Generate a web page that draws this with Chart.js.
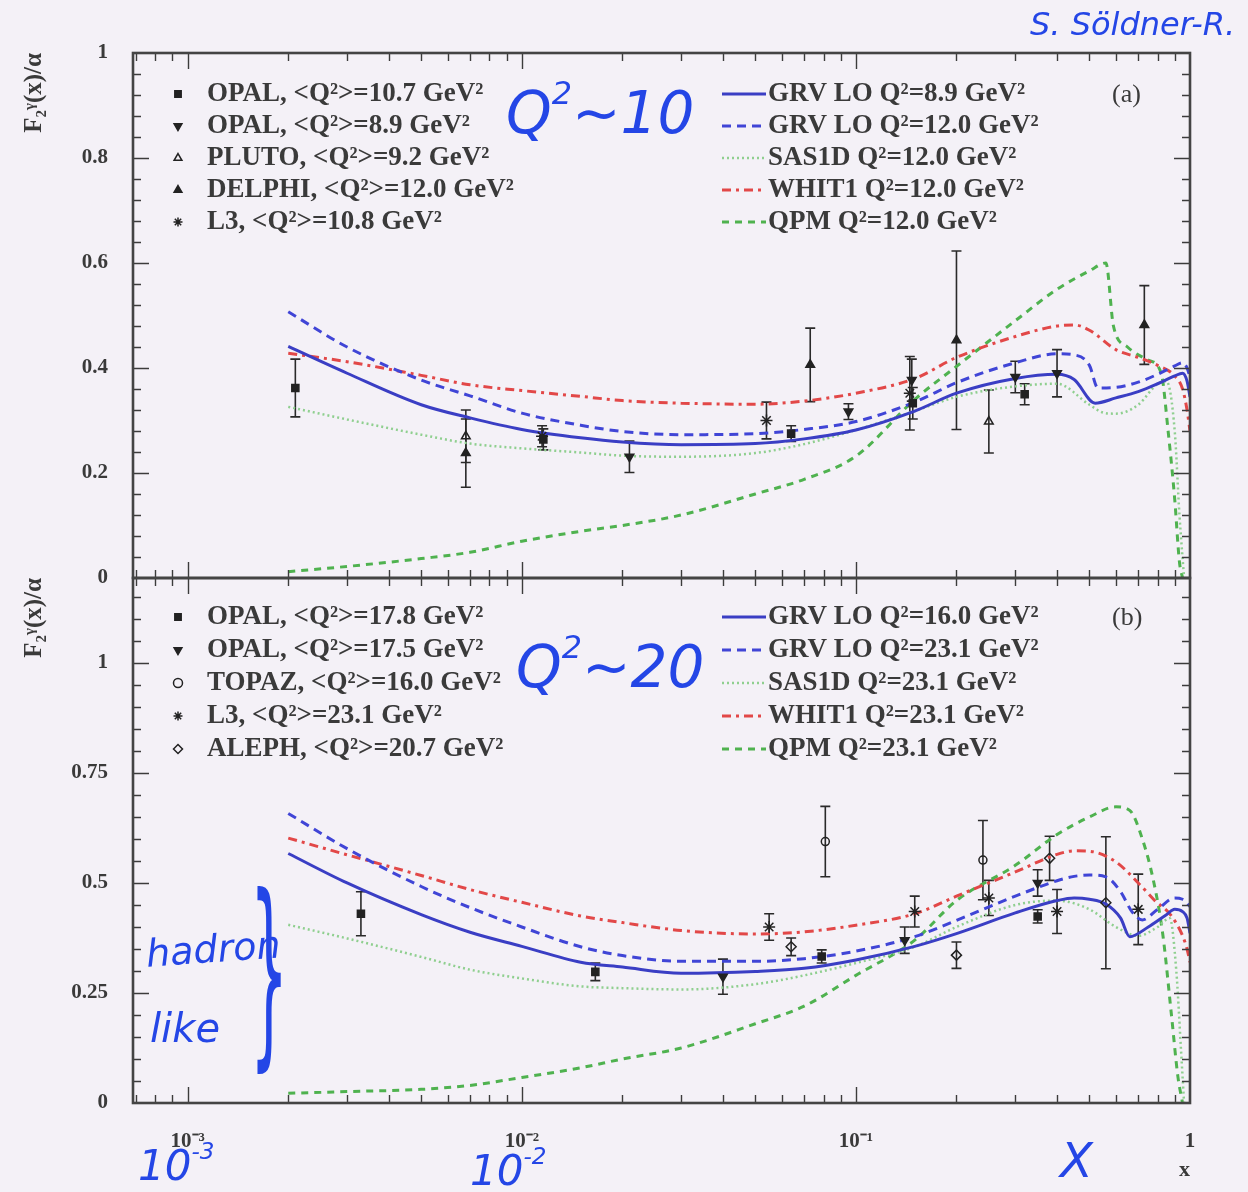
<!DOCTYPE html>
<html><head><meta charset="utf-8">
<script src="https://cdn.jsdelivr.net/npm/chart.js@4.4.1/dist/chart.umd.min.js"></script>
<style>
html,body{margin:0;padding:0;background:#f4f1f7;width:1248px;height:1192px;overflow:hidden;}
#wrap{position:relative;width:1248px;height:1192px;}
canvas{position:absolute;left:0;}
.hw{position:absolute;color:#2446e6;font-family:"DejaVu Sans",sans-serif;font-style:italic;white-space:nowrap;line-height:1;}
.hw sup{font-size:0.55em;vertical-align:0.9em;}
</style></head><body>
<div id="wrap">
<canvas id="cTop" width="1248" height="600" style="top:0"></canvas>
<canvas id="cBot" width="1248" height="632" style="top:560px"></canvas>
<div class="hw" style="left:1030px;top:8px;font-size:32px;">S. Söldner-R.</div>
<div class="hw" style="left:506px;top:78px;font-size:58px;">Q<sup>2</sup>~10</div>
<div class="hw" style="left:516px;top:632px;font-size:58px;">Q<sup>2</sup>~20</div>
<div class="hw" style="left:146px;top:930px;font-size:38px;transform:rotate(-4deg);">hadron</div>
<div class="hw" style="left:150px;top:1008px;font-size:40px;">like</div>
<div class="hw" style="left:250px;top:940px;font-size:60px;font-style:normal;transform:scale(1,3.4);transform-origin:0 50%;">}</div>
<div class="hw" style="left:138px;top:1140px;font-size:42px;">10<sup>-3</sup></div>
<div class="hw" style="left:470px;top:1145px;font-size:42px;">10<sup>-2</sup></div>
<div class="hw" style="left:1060px;top:1136px;font-size:48px;">X</div>
</div>
<script>
// ---------- axis ranges & ticks ----------
const X_MIN = 6.86e-4, X_MAX = 1;
const xTickVals = [0.001, 0.01, 0.1, 1];
const xTickLabels = ['10⁻³', '10⁻²', '10⁻¹', '1'];
const yTicksTop = [0, 0.2, 0.4, 0.6, 0.8, 1];
const yTicksBot = [0, 0.25, 0.5, 0.75, 1];

// ---------- panel (a): Q^2 ~ 10 ----------
// data points: [x, F2/alpha, error]
const opal107 = [[0.0021,0.362,0.055],[0.0116,0.264,0.02],[0.064,0.275,0.015],[0.148,0.333,0.03],[0.32,0.35,0.02]];
const opal89  = [[0.021,0.231,0.03],[0.095,0.317,0.015],[0.147,0.377,0.04],[0.3,0.383,0.03],[0.4,0.39,0.045]];
const pluto92 = [[0.0068,0.27,0.05],[0.25,0.298,0.06]];
const delphi120 = [[0.0068,0.238,0.065],[0.073,0.406,0.07],[0.2,0.453,0.17],[0.73,0.482,0.075]];
const l3_108 = [[0.0115,0.27,0.02],[0.054,0.3,0.035],[0.145,0.352,0.07]];
// theory curves: [x, F2/alpha]
const grv89 = [[0.002,0.441],[0.003,0.39],[0.005,0.33],[0.007,0.305],[0.01,0.283],[0.015,0.267],[0.02,0.259],[0.03,0.254],[0.05,0.256],[0.07,0.265],[0.1,0.282],[0.15,0.318],[0.2,0.352],[0.3,0.38],[0.4,0.388],[0.45,0.378],[0.52,0.333],[0.6,0.343],[0.7,0.355],[0.8,0.37],[0.9,0.385],[0.95,0.39],[0.98,0.375],[1.0,0.345]];
const grv120 = [[0.002,0.507],[0.003,0.44],[0.005,0.377],[0.007,0.347],[0.01,0.314],[0.015,0.291],[0.02,0.279],[0.03,0.273],[0.05,0.275],[0.07,0.283],[0.1,0.298],[0.15,0.335],[0.2,0.372],[0.3,0.41],[0.4,0.427],[0.45,0.425],[0.5,0.405],[0.53,0.362],[0.6,0.363],[0.7,0.373],[0.8,0.388],[0.9,0.404],[0.95,0.41],[0.98,0.4],[1.0,0.383]];
const sas120 = [[0.002,0.326],[0.003,0.302],[0.005,0.273],[0.007,0.256],[0.01,0.247],[0.015,0.239],[0.02,0.233],[0.03,0.231],[0.05,0.238],[0.07,0.255],[0.1,0.282],[0.15,0.318],[0.2,0.345],[0.3,0.365],[0.4,0.37],[0.5,0.33],[0.55,0.315],[0.6,0.313],[0.7,0.33],[0.8,0.37],[0.85,0.375],[0.9,0.28],[0.93,0.12],[0.96,0.0]];
const whit120 = [[0.002,0.428],[0.003,0.412],[0.005,0.386],[0.007,0.368],[0.01,0.357],[0.015,0.346],[0.02,0.338],[0.03,0.333],[0.05,0.331],[0.07,0.337],[0.1,0.352],[0.15,0.38],[0.2,0.42],[0.3,0.46],[0.4,0.48],[0.45,0.482],[0.5,0.472],[0.6,0.435],[0.7,0.42],[0.8,0.405],[0.9,0.385],[0.95,0.36],[0.98,0.32],[1.0,0.28]];
const qpm120 = [[0.002,0.012],[0.003,0.022],[0.005,0.037],[0.007,0.049],[0.01,0.07],[0.015,0.089],[0.02,0.1],[0.03,0.12],[0.05,0.16],[0.07,0.188],[0.1,0.232],[0.15,0.34],[0.2,0.403],[0.3,0.49],[0.4,0.55],[0.5,0.585],[0.56,0.6],[0.59,0.48],[0.65,0.44],[0.75,0.415],[0.82,0.39],[0.86,0.28],[0.9,0.15],[0.93,0.03],[0.95,0.0]];

// ---------- panel (b): Q^2 ~ 20 ----------
const opal178 = [[0.0033,0.43,0.05],[0.0166,0.298,0.02],[0.079,0.333,0.015],[0.35,0.424,0.015]];
const opal175 = [[0.04,0.287,0.04],[0.14,0.37,0.03],[0.35,0.5,0.03]];
const topaz160 = [[0.081,0.594,0.08],[0.24,0.552,0.09]];
const l3_231 = [[0.055,0.4,0.03],[0.15,0.435,0.035],[0.25,0.466,0.04],[0.4,0.435,0.05],[0.7,0.44,0.08]];
const aleph207 = [[0.064,0.355,0.02],[0.2,0.336,0.03],[0.38,0.556,0.05],[0.56,0.455,0.15]];
const grv160 = [[0.002,0.567],[0.003,0.5],[0.005,0.428],[0.007,0.388],[0.01,0.356],[0.015,0.32],[0.02,0.309],[0.03,0.295],[0.05,0.299],[0.07,0.306],[0.1,0.325],[0.15,0.356],[0.2,0.385],[0.3,0.432],[0.4,0.46],[0.45,0.466],[0.5,0.463],[0.56,0.452],[0.62,0.42],[0.66,0.378],[0.75,0.4],[0.85,0.428],[0.9,0.44],[0.95,0.435],[0.98,0.42],[1.0,0.386]];
const grv231 = [[0.002,0.658],[0.003,0.578],[0.005,0.492],[0.007,0.444],[0.01,0.4],[0.015,0.355],[0.02,0.335],[0.03,0.322],[0.05,0.322],[0.07,0.328],[0.1,0.345],[0.15,0.378],[0.2,0.415],[0.3,0.47],[0.4,0.505],[0.45,0.515],[0.5,0.518],[0.56,0.514],[0.62,0.48],[0.67,0.435],[0.72,0.416],[0.8,0.44],[0.9,0.466],[0.95,0.463],[0.98,0.455],[1.0,0.446]];
const sas231 = [[0.002,0.405],[0.003,0.374],[0.005,0.332],[0.007,0.303],[0.01,0.283],[0.015,0.265],[0.02,0.261],[0.03,0.258],[0.05,0.27],[0.07,0.29],[0.1,0.318],[0.15,0.355],[0.2,0.4],[0.3,0.45],[0.4,0.46],[0.5,0.44],[0.6,0.4],[0.7,0.38],[0.8,0.4],[0.87,0.42],[0.91,0.3],[0.94,0.12],[0.96,0.0]];
const whit231 = [[0.002,0.602],[0.003,0.564],[0.005,0.517],[0.007,0.485],[0.01,0.456],[0.015,0.425],[0.02,0.41],[0.03,0.392],[0.05,0.384],[0.07,0.389],[0.1,0.404],[0.15,0.43],[0.2,0.47],[0.3,0.525],[0.4,0.565],[0.45,0.573],[0.5,0.572],[0.6,0.548],[0.7,0.5],[0.78,0.462],[0.88,0.425],[0.95,0.38],[0.98,0.35],[1.0,0.32]];
const qpm231 = [[0.002,0.022],[0.003,0.026],[0.005,0.031],[0.007,0.04],[0.01,0.058],[0.015,0.08],[0.02,0.1],[0.03,0.125],[0.05,0.18],[0.07,0.22],[0.1,0.29],[0.15,0.37],[0.2,0.46],[0.3,0.54],[0.4,0.61],[0.5,0.65],[0.6,0.673],[0.66,0.665],[0.72,0.6],[0.78,0.5],[0.83,0.38],[0.88,0.2],[0.92,0.06],[0.95,0.0]];

// ---------- styles ----------
const C_BLUE = '#3a3ec4', C_BLUE2 = '#4045d6', C_LGREEN = '#8fcf8f', C_RED = '#e24848', C_GREEN = '#4fb24f';
const FONT = '"Liberation Serif", "Times New Roman", serif';
const TXT = '#3a3a3a';

function curveDs(label, pts, color, dash, width) {
  return { type: 'line', label, kind: 'line', data: pts.map(p => ({ x: p[0], y: p[1] })),
    borderColor: color, borderDash: dash, borderWidth: width, pointRadius: 0,
    fill: false, cubicInterpolationMode: 'monotone', order: 2 };
}
function pointDs(label, pts, style, filled, rot, radius) {
  return { type: 'scatter', label, kind: 'marker', data: pts.map(p => ({ x: p[0], y: p[1], e: p[2] })),
    pointStyle: style, pointRotation: rot || 0, pointRadius: radius || 5,
    backgroundColor: filled ? '#222' : 'rgba(0,0,0,0)', borderColor: '#222', borderWidth: 1.5, order: 1 };
}

// ---------- plugins ----------
const errorBars = {
  id: 'errorBars',
  beforeDatasetsDraw(chart) {
    const ctx = chart.ctx, xs = chart.scales.x, ys = chart.scales.y, a = chart.chartArea;
    ctx.save();
    ctx.beginPath(); ctx.rect(a.left, a.top, a.right - a.left, a.bottom - a.top); ctx.clip();
    ctx.strokeStyle = '#2a2a2a'; ctx.lineWidth = 1.6;
    chart.data.datasets.forEach(ds => {
      if (ds.kind !== 'marker') return;
      ds.data.forEach(p => {
        const px = xs.getPixelForValue(p.x);
        const y1 = ys.getPixelForValue(p.y - p.e), y2 = ys.getPixelForValue(p.y + p.e);
        ctx.beginPath();
        ctx.moveTo(px, y1); ctx.lineTo(px, y2);
        ctx.moveTo(px - 5, y1); ctx.lineTo(px + 5, y1);
        ctx.moveTo(px - 5, y2); ctx.lineTo(px + 5, y2);
        ctx.stroke();
      });
    });
    ctx.restore();
  }
};

const frame = {
  id: 'frame',
  afterDraw(chart, args, o) {
    const ctx = chart.ctx, a = chart.chartArea, xs = chart.scales.x, ys = chart.scales.y;
    ctx.save();
    ctx.strokeStyle = '#3c3c3c'; ctx.lineWidth = 1.4;
    ctx.beginPath();
    for (let d = -4; d <= 0; d++) {
      for (let m = 1; m <= 9; m++) {
        const v = m * Math.pow(10, d);
        if (v <= xs.min || v >= xs.max) continue;
        const px = Math.round(xs.getPixelForValue(v)) + 0.5;
        const L = m === 1 ? 16 : 8;
        ctx.moveTo(px, a.bottom); ctx.lineTo(px, a.bottom - L);
        ctx.moveTo(px, a.top); ctx.lineTo(px, a.top + L);
      }
    }
    const sub = o.major / o.minorDiv;
    for (let i = 1; i * sub < ys.max - 1e-9; i++) {
      const py = Math.round(ys.getPixelForValue(i * sub)) + 0.5;
      const L = i % o.minorDiv === 0 ? 16 : 8;
      ctx.moveTo(a.left, py); ctx.lineTo(a.left + L, py);
      ctx.moveTo(a.right, py); ctx.lineTo(a.right - L, py);
    }
    ctx.stroke();
    ctx.lineWidth = 2.6; ctx.strokeStyle = '#444';
    ctx.strokeRect(a.left, a.top, a.right - a.left, a.bottom - a.top);
    ctx.restore();
  }
};

function drawMarker(ctx, d, x, y) {
  ctx.save();
  ctx.fillStyle = d.backgroundColor; ctx.strokeStyle = d.borderColor; ctx.lineWidth = d.borderWidth;
  if (Chart.helpers && Chart.helpers.drawPoint) {
    Chart.helpers.drawPoint(ctx, { pointStyle: d.pointStyle, rotation: d.pointRotation, radius: 4.5, borderWidth: d.borderWidth }, x, y);
  } else {
    ctx.fillRect(x - 4, y - 4, 8, 8);
  }
  ctx.restore();
}

const panelLegend = {
  id: 'panelLegend',
  afterDraw(chart, args, o) {
    const ctx = chart.ctx, a = chart.chartArea, ds = chart.data.datasets;
    ctx.save();
    ctx.font = 'bold 27px ' + FONT; ctx.fillStyle = TXT;
    ctx.textBaseline = 'middle'; ctx.textAlign = 'left';
    ds.filter(d => d.kind === 'marker').forEach((d, i) => {
      const y = a.top + o.top + i * o.gap;
      drawMarker(ctx, d, a.left + 45, y);
      ctx.fillStyle = TXT;
      ctx.fillText(d.label, a.left + 74, y);
    });
    ds.filter(d => d.kind === 'line').forEach((d, i) => {
      const y = a.top + o.top + i * o.gap;
      ctx.save();
      ctx.strokeStyle = d.borderColor; ctx.lineWidth = d.borderWidth; ctx.setLineDash(d.borderDash || []);
      ctx.beginPath(); ctx.moveTo(722, y); ctx.lineTo(766, y); ctx.stroke();
      ctx.restore();
      ctx.fillText(d.label, 768, y);
    });
    ctx.font = '26px ' + FONT;
    ctx.fillText(o.tag, 1112, a.top + o.top + 1);
    ctx.restore();
  }
};

function yAxis(max, ticks) {
  return {
    min: 0, max: max,
    afterFit(s) { s.width = 133; s.paddingTop = 0; s.paddingBottom = 0; },
    afterBuildTicks(s) { s.ticks = ticks.map(v => ({ value: v })); },
    grid: { display: false, drawTicks: false }, border: { display: false },
    ticks: { padding: 25, color: TXT, font: { family: FONT, weight: 'bold', size: 21 }, callback: v => String(v) },
    title: { display: true, text: 'F₂ᵞ(x)/α', align: 'end', color: TXT,
      font: { family: FONT, weight: 'bold', size: 25 }, padding: { top: 20, bottom: 0 } }
  };
}

const common = (legendOpts, frameOpts) => ({
  responsive: false, animation: false, devicePixelRatio: 1,
  plugins: { legend: { display: false }, tooltip: { enabled: false }, panelLegend: legendOpts, frame: frameOpts }
});

// ---------- top chart ----------
const topOpts = common({ top: 41, gap: 32, tag: '(a)' }, { major: 0.2, minorDiv: 5 });
topOpts.layout = { padding: { left: 0, right: 58, top: 53, bottom: 22 } };
topOpts.scales = {
  x: { type: 'logarithmic', min: X_MIN, max: X_MAX, display: false },
  y: yAxis(1, yTicksTop)
};
new Chart(document.getElementById('cTop'), {
  type: 'line',
  data: { datasets: [
    pointDs('OPAL, <Q²>=10.7 GeV²', opal107, 'rect', true, 0, 5),
    pointDs('OPAL, <Q²>=8.9 GeV²', opal89, 'triangle', true, 180, 5),
    pointDs('PLUTO, <Q²>=9.2 GeV²', pluto92, 'triangle', false, 0, 5),
    pointDs('DELPHI, <Q²>=12.0 GeV²', delphi120, 'triangle', true, 0, 5),
    pointDs('L3, <Q²>=10.8 GeV²', l3_108, 'star', false, 0, 6),
    curveDs('GRV LO Q²=8.9 GeV²', grv89, C_BLUE, [], 3),
    curveDs('GRV LO Q²=12.0 GeV²', grv120, C_BLUE2, [9, 6], 3),
    curveDs('SAS1D Q²=12.0 GeV²', sas120, C_LGREEN, [2, 3], 2.5),
    curveDs('WHIT1 Q²=12.0 GeV²', whit120, C_RED, [9, 5, 3, 5], 3),
    curveDs('QPM Q²=12.0 GeV²', qpm120, C_GREEN, [7, 6], 3)
  ] },
  options: topOpts,
  plugins: [errorBars, frame, panelLegend]
});

// ---------- bottom chart ----------
const botOpts = common({ top: 39, gap: 33, tag: '(b)' }, { major: 0.25, minorDiv: 5 });
botOpts.layout = { padding: { left: 0, right: 58, top: 18, bottom: 0 } };
botOpts.scales = {
  x: {
    type: 'logarithmic', min: X_MIN, max: X_MAX,
    afterFit(s) { s.height = 89; s.paddingLeft = 0; s.paddingRight = 0; },
    afterBuildTicks(s) { s.ticks = xTickVals.map(v => ({ value: v })); },
    grid: { display: false, drawTicks: false }, border: { display: false },
    ticks: { padding: 26, autoSkip: false, maxRotation: 0, color: TXT,
      font: { family: FONT, weight: 'bold', size: 21 }, callback: (v, i) => xTickLabels[i] },
    title: { display: true, text: 'x', align: 'end', color: TXT,
      font: { family: FONT, weight: 'bold', size: 22 }, padding: { top: 0, bottom: 8 } }
  },
  y: yAxis(1.193, yTicksBot)
};
new Chart(document.getElementById('cBot'), {
  type: 'line',
  data: { datasets: [
    pointDs('OPAL, <Q²>=17.8 GeV²', opal178, 'rect', true, 0, 5),
    pointDs('OPAL, <Q²>=17.5 GeV²', opal175, 'triangle', true, 180, 5),
    pointDs('TOPAZ, <Q²>=16.0 GeV²', topaz160, 'circle', false, 0, 4),
    pointDs('L3, <Q²>=23.1 GeV²', l3_231, 'star', false, 0, 6),
    pointDs('ALEPH, <Q²>=20.7 GeV²', aleph207, 'rectRot', false, 0, 5),
    curveDs('GRV LO Q²=16.0 GeV²', grv160, C_BLUE, [], 3),
    curveDs('GRV LO Q²=23.1 GeV²', grv231, C_BLUE2, [9, 6], 3),
    curveDs('SAS1D Q²=23.1 GeV²', sas231, C_LGREEN, [2, 3], 2.5),
    curveDs('WHIT1 Q²=23.1 GeV²', whit231, C_RED, [9, 5, 3, 5], 3),
    curveDs('QPM Q²=23.1 GeV²', qpm231, C_GREEN, [7, 6], 3)
  ] },
  options: botOpts,
  plugins: [errorBars, frame, panelLegend]
});
</script>
</body></html>
